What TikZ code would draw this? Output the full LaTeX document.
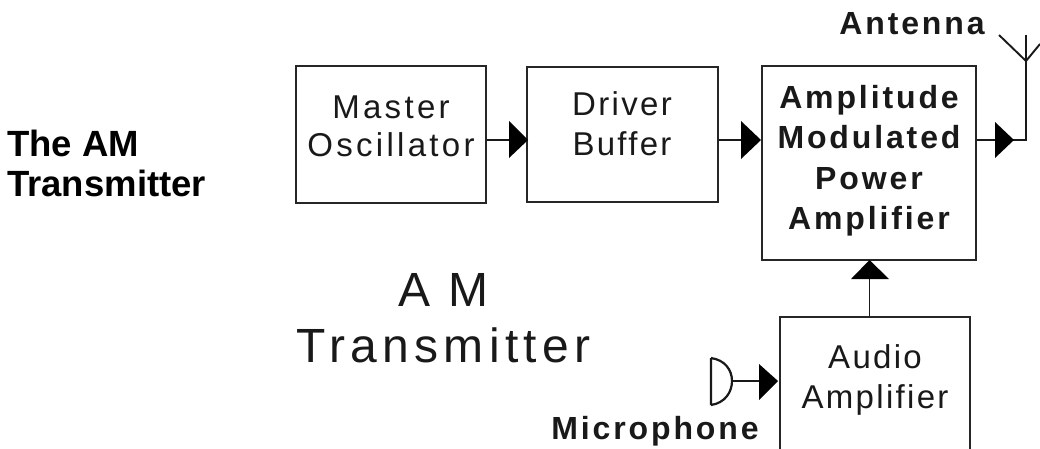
\documentclass[tikz,border=0pt]{standalone}
\usepackage{fontspec}
\setmainfont{Liberation Sans}
\tikzset{
  px/.style={x=1pt,y=-1pt},
  blockbox/.style={draw=black!85,line width=2pt,inner sep=0pt},
  wire/.style={draw=black!90,line width=1.9pt},
  boxtxt/.style={font=\fontsize{33}{40}\selectfont\addfontfeature{LetterSpace=7},align=center,text=black!90,inner sep=0pt},
  osctxtstyle/.style={font=\fontsize{33}{38.5}\selectfont\addfontfeature{LetterSpace=10},align=center,text=black!90,inner sep=0pt},
  heavytxt/.style={font=\bfseries\fontsize{32}{40.5}\selectfont\addfontfeature{LetterSpace=9},align=center,text=black!90,inner sep=0pt},
}
\begin{document}
\begin{tikzpicture}[px]
\useasboundingbox (0,0) rectangle (1040,448);
\node[blockbox,minimum width=190pt,minimum height=137pt] (osc) at (391,134) {};
\node[blockbox,minimum width=191pt,minimum height=135pt] (drv) at (622.5,134.5) {};
\node[blockbox,minimum width=214pt,minimum height=194pt] (amp) at (869,163) {};
\node[blockbox,minimum width=190pt,minimum height=137pt] (aud) at (875,385.5) {};
\node[osctxtstyle] (osctxt) at (391,126.5) {Master\\Oscillator};
\node[boxtxt] (drvtxt) at (622,124) {Driver\\Buffer};
\node[heavytxt] (amptxt) at (869,160.5) {Amplitude\\Modulated\\Power\\Amplifier};
\node[boxtxt] (audtxt) at (875,380) {Audio\\Amplifier};
\node[font=\bfseries\fontsize{36.5}{40}\selectfont,align=left,text=black,anchor=west,inner sep=0pt] (title) at (7,163) {The AM\\Transmitter};
\node[font=\fontsize{48}{56}\selectfont\addfontfeature{LetterSpace=11},align=center,text=black!90,inner sep=0pt] (big) at (443.5,318) {A M\\Transmitter};
\node[heavytxt] (antl) at (912,24) {Antenna};
\node[heavytxt] (micl) at (655,431) {Microphone};
\coordinate (ant) at (1026,61);
\coordinate (anttop) at (1026,35);
\coordinate (antl1) at (999,35);
\coordinate (antr1) at (1040,44);
\coordinate (mic) at (732,381);
\coordinate (ampin) at (869.5,260);
\draw[wire] (osc.east |- 0,140) -- (509,140);
\draw[wire] (drv.east |- 0,140) -- (742,140);
\draw[wire] (amp.east |- 0,140) -- (1026,140) -- (ant);
\draw[wire] (ant) -- (anttop);
\draw[wire] (ant) -- (antl1);
\draw[wire] (ant) -- (antr1);
\draw[wire] (aud.north -| ampin) -- (869.5,279);
\draw[wire] (mic) -- (759,381);
\draw[wire,line width=2.2pt] (711,358) -- (711,405) (711,358) .. controls (725,360) and (732,370) .. (mic) .. controls (732,392) and (725,403) .. (711,405);
\fill[black] (509,121) -- (528,140) -- (509,158) -- cycle;
\fill[black] (741,121) -- (761,140) -- (741,159) -- cycle;
\fill[black] (995,122) -- (1014,140) -- (995,158) -- cycle;
\fill[black] (851,279) -- (869.5,260) -- (889,279) -- cycle;
\fill[black] (759,364) -- (778,381) -- (759,400) -- cycle;
\end{tikzpicture}
\end{document}
